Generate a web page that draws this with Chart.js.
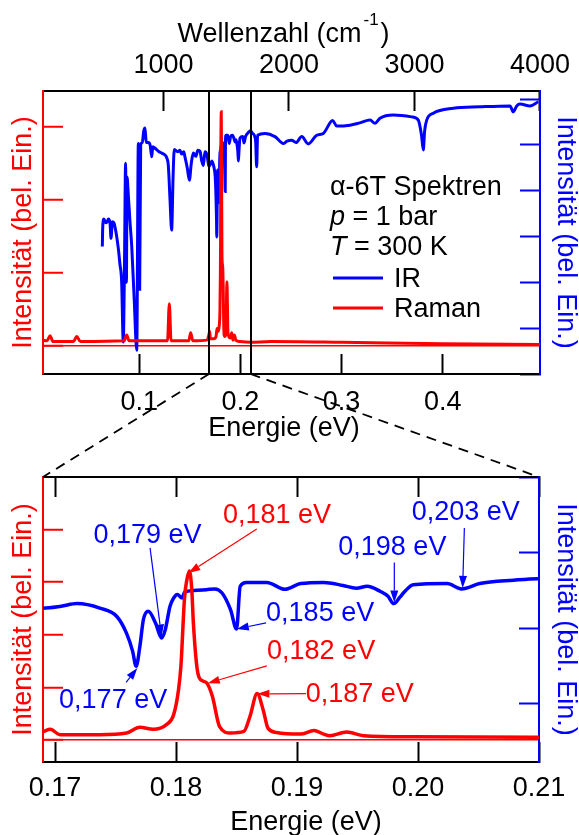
<!DOCTYPE html>
<html>
<head>
<meta charset="utf-8">
<script src="https://cdn.jsdelivr.net/npm/chart.js@4.4.1/dist/chart.umd.min.js"></script>
<style>
  body { margin: 0; background: #fff; }
  #wrap { position: relative; width: 579px; height: 835px; }
  #wrap canvas { position: absolute; left: 0; }
  #overview { top: 0; }
  #zoom { top: 445px; }
  #overlay { top: 0; pointer-events: none; }
</style>
</head>
<body>
<div id="wrap">
  <canvas id="overview" width="579" height="445"></canvas>
  <canvas id="zoom" width="579" height="390"></canvas>
  <canvas id="overlay" width="579" height="835"></canvas>
</div>
<script>
var FONT = "'Liberation Sans', Arial, Helvetica, sans-serif";
var RED = '#ff0000', BLUE = '#0000ff';
var CM_PER_EV = 8065.54;

// IR spectrum, energy (eV) / intensity (arb. units, right axis)
var irEnergy = [0.0636, 0.0640, 0.0652, 0.0663, 0.0680, 0.0695, 0.0712, 0.0722, 0.0735, 0.0750,
  0.0761, 0.0778, 0.0794, 0.0810, 0.0827, 0.0843, 0.0855, 0.0866, 0.0874, 0.0880,
  0.0893, 0.0910, 0.0926, 0.0952, 0.0976, 0.0992, 0.1005, 0.1015, 0.1031, 0.1045,
  0.1058, 0.1070, 0.1090, 0.1110, 0.1124, 0.1135, 0.1160, 0.1190, 0.1223, 0.1255,
  0.1272, 0.1288, 0.1305, 0.1321, 0.1335, 0.1347, 0.1380, 0.1403, 0.1420, 0.1440,
  0.1452, 0.1475, 0.1496, 0.1515, 0.1535, 0.1560, 0.1580, 0.1601, 0.1618, 0.1634,
  0.1650, 0.1670, 0.1683, 0.1690, 0.1705, 0.1718, 0.1737, 0.1751, 0.1759, 0.1764,
  0.1767, 0.1770, 0.1773, 0.1777, 0.1783, 0.1788, 0.1791, 0.1795, 0.1798, 0.1801,
  0.1805, 0.1807, 0.1815, 0.1825, 0.1832, 0.1838, 0.1845, 0.1850, 0.1853, 0.1858,
  0.1875, 0.1890, 0.1903, 0.1922, 0.1938, 0.1949, 0.1958, 0.1969, 0.1975, 0.1980,
  0.1985, 0.1989, 0.1996, 0.2024, 0.2036, 0.2051, 0.2079, 0.2099, 0.2120, 0.2150,
  0.2161, 0.2170, 0.2243, 0.2342, 0.2424, 0.2460, 0.2507, 0.2550, 0.2606, 0.2671,
  0.2754, 0.2819, 0.2912, 0.2952, 0.3083, 0.3180, 0.3281, 0.3330, 0.3379, 0.3511,
  0.3693, 0.3758, 0.3790, 0.3807, 0.3820, 0.3841, 0.3906, 0.4104, 0.4367, 0.4664,
  0.4696, 0.4730, 0.4763, 0.4861, 0.4943];
var irIntensity = [2.78, 3.20, 3.38, 3.32, 3.30, 3.38, 3.30, 2.96, 3.32, 3.30,
  3.21, 3.00, 2.74, 2.40, 2.01, 0.70, 2.40, 4.60, 2.00, 4.30,
  3.90, 3.30, 2.81, 1.58, 0.52, 5.03, 1.85, 5.00, 5.05, 5.30,
  5.37, 5.05, 5.05, 4.98, 4.74, 4.96, 4.92, 4.86, 4.82, 4.78,
  4.72, 4.55, 3.80, 3.14, 4.30, 4.90, 4.85, 4.88, 4.80, 4.85,
  4.74, 4.50, 4.23, 4.60, 4.82, 4.75, 4.88, 4.86, 4.65, 4.55,
  4.85, 4.78, 4.60, 4.53, 4.58, 4.65, 4.53, 4.31, 3.87, 3.40,
  2.99, 3.50, 4.23, 4.45, 4.14, 3.74, 3.95, 4.58, 4.80, 4.89,
  4.80, 4.95, 5.00, 5.02, 5.04, 4.93, 4.49, 3.98, 5.11, 5.21,
  5.21, 5.03, 5.18, 5.21, 5.13, 5.06, 5.11, 4.97, 4.85, 4.65,
  4.82, 4.97, 5.15, 5.18, 5.04, 5.18, 5.27, 5.31, 5.25, 5.10,
  4.52, 5.21, 5.25, 5.18, 5.03, 5.08, 5.10, 5.05, 5.18, 5.02,
  5.21, 5.25, 5.53, 5.41, 5.43, 5.48, 5.54, 5.47, 5.58, 5.65,
  5.61, 5.54, 5.20, 4.89, 5.30, 5.54, 5.69, 5.80, 5.83, 5.85,
  5.72, 5.85, 5.89, 5.85, 5.94];

// Raman spectrum, energy (eV) / intensity (arb. units, left axis)
var ramanEnergy = [0.0050, 0.0090, 0.0119, 0.0150, 0.0350, 0.0383, 0.0420, 0.0850, 0.0877, 0.0900,
  0.1280, 0.1298, 0.1315, 0.1490, 0.1509, 0.1530, 0.1670, 0.1690, 0.1696, 0.1704,
  0.1737, 0.1759, 0.1770, 0.1781, 0.1792, 0.1798, 0.1802, 0.1804, 0.1807, 0.1809,
  0.1811, 0.1813, 0.18143, 0.1818, 0.1822, 0.18254, 0.1830, 0.1836, 0.1845, 0.1856,
  0.1861, 0.1867, 0.1872, 0.1876, 0.1883, 0.1903, 0.1914, 0.1922, 0.1927, 0.1941,
  0.1955, 0.1996, 0.2098, 0.2300, 0.3000, 0.4000, 0.4960];
var ramanIntensity = [0.08, 0.07, 0.14, 0.06, 0.06, 0.13, 0.06, 0.07, 0.15, 0.07,
  0.07, 0.58, 0.07, 0.07, 0.18, 0.07, 0.08, 0.16, 0.20, 0.10,
  0.10, 0.13, 0.24, 0.20, 0.29, 0.48, 0.95, 1.40, 2.70, 3.05,
  3.21, 2.85, 2.22, 1.27, 1.12, 1.08, 0.83, 0.25, 0.13, 0.16,
  0.44, 0.88, 0.57, 0.22, 0.14, 0.11, 0.18, 0.11, 0.08, 0.15,
  0.08, 0.06, 0.05, 0.06, 0.05, 0.03, 0.02];

// axis ranges and tick labels
var overviewEnergy = [0.005, 0.496];
var zoomEnergy = [0.169, 0.21];
var wavenumberTicks = [1000, 2000, 3000, 4000];
var overviewRaman = [-0.384, 3.493];
var overviewIR = [0, 6.175];
var zoomRaman = [-0.42, 4.995];
var zoomIR = [0.46, 8.0];

// peak labels of the zoomed panel
var peakText = ['0,177 eV', '0,179 eV', '0,181 eV', '0,182 eV', '0,185 eV', '0,187 eV', '0,198 eV', '0,203 eV'];
var peakSeries = ['IR', 'IR', 'Raman', 'Raman', 'IR', 'Raman', 'IR', 'IR'];
var peakTipE = [0.1768, 0.1788, 0.18102, 0.18262, 0.18502, 0.18672, 0.19804, 0.20369];
var peakTipY = [2.95, 3.78, 3.17, 1.078, 3.98, 0.875, 4.677, 5.066];
var peakTailE = [0.17587, 0.17785, 0.18667, 0.1875, 0.18744, 0.19074, 0.19804, 0.20383];
var peakTailY = [2.569, 6.124, 4.006, 1.407, 4.14, 0.88, 5.735, 6.653];
var peakTextE = [0.17033, 0.17317, 0.18388, 0.18752, 0.18744, 0.19072, 0.19341, 0.19948];
var peakTextY = [1.892, 6.257, 4.12, 1.534, 4.183, 0.728, 5.947, 6.873];

function points(xs, ys) {
  return xs.map(function(x, i) { return {x: x, y: ys[i]}; });
}

var tickFont = {family: FONT, size: 27, lineHeight: 1};

// fixed axis thickness, no extra label padding -> plot areas land where the reference has them
function fixSize(prop, px) {
  return function(scale) {
    scale[prop] = px;
    scale.paddingLeft = scale.paddingRight = scale.paddingTop = scale.paddingBottom = 0;
  };
}

function tickMarks(color) {
  return {drawOnChartArea: false, color: color, tickColor: color, tickLength: -20, tickWidth: 2};
}

function energyAxis(pos, range, step, digits, height, pad, showLabels, values) {
  var axis = {
    type: 'linear', axis: 'x', position: pos, min: range[0], max: range[1],
    afterFit: fixSize('height', height),
    border: {color: '#000', width: 2},
    grid: tickMarks('#000'),
    ticks: {
      display: showLabels, stepSize: step, includeBounds: false, autoSkip: false, maxRotation: 0,
      color: '#000', font: tickFont, padding: pad,
      callback: function(v) { return digits == null ? String(v) : v.toFixed(digits); }
    }
  };
  if (values) {
    axis.afterBuildTicks = function(s) {
      s.ticks = values.map(function(v) { return {value: v}; });
    };
  }
  return axis;
}

function intensityAxis(pos, range, step, width, color, zeroLine) {
  var grid = tickMarks(color);
  if (zeroLine) {
    grid.drawOnChartArea = true;
    grid.lineWidth = 1.5;
    grid.color = function(c) { return c.tick && c.tick.value === 0 ? color : 'rgba(0,0,0,0)'; };
  }
  return {
    type: 'linear', axis: 'y', position: pos, min: range[0], max: range[1],
    afterFit: fixSize('width', width),
    border: {color: color, width: 2},
    grid: grid,
    ticks: {display: false, stepSize: step, includeBounds: false},
    title: {
      display: true, text: 'Intensität (bel. Ein.)', color: color,
      font: {family: FONT, size: 27, lineHeight: 1},
      padding: {top: pos === 'left' ? 10.5 : 0, bottom: 0}
    }
  };
}

function datasets(width) {
  return [{
    label: 'IR', data: points(irEnergy, irIntensity), yAxisID: 'yI', xAxisID: 'x',
    borderColor: BLUE, borderWidth: width, order: 1, showLine: true
  }, {
    label: 'Raman', data: points(ramanEnergy, ramanIntensity), yAxisID: 'yR', xAxisID: 'x',
    borderColor: RED, borderWidth: width, order: 0, showLine: true
  }];
}

function drawEnergyTitle(chart, shift, baseline) {
  var ctx = chart.ctx, s = chart.scales.x;
  ctx.save();
  ctx.font = '27px ' + FONT;
  ctx.fillStyle = '#000';
  ctx.textAlign = 'center';
  ctx.textBaseline = 'alphabetic';
  ctx.fillText('Energie (eV)', (s.left + s.right) / 2 + shift, s.bottom - baseline);
  ctx.restore();
}

var overviewDecor = {
  id: 'overviewDecor',
  afterDatasetsDraw: function(chart) {
    var ctx = chart.ctx, a = chart.chartArea, sx = chart.scales.x;
    ctx.save();
    // zoom window
    ctx.strokeStyle = '#000';
    ctx.lineWidth = 2;
    zoomEnergy.forEach(function(e) {
      var px = Math.round(sx.getPixelForValue(e));
      ctx.beginPath();
      ctx.moveTo(px, a.top);
      ctx.lineTo(px, a.bottom);
      ctx.stroke();
    });
    // sample info and legend
    ctx.fillStyle = '#000';
    ctx.textBaseline = 'alphabetic';
    ctx.textAlign = 'left';
    var lx = a.left + 287;
    ctx.font = '27px ' + FONT;
    ctx.fillText('\u03b1-6T Spektren', lx, a.top + 104);
    [['p', ' = 1 bar', 134], ['T', ' = 300 K', 164]].forEach(function(r) {
      ctx.font = 'italic 27px ' + FONT;
      ctx.fillText(r[0], lx, a.top + r[2]);
      var w = ctx.measureText(r[0]).width;
      ctx.font = '27px ' + FONT;
      ctx.fillText(r[1], lx + w, a.top + r[2]);
    });
    var rows = [chart.data.datasets[0], chart.data.datasets[1]];
    rows.forEach(function(ds, i) {
      var y = a.top + 187 + i * 30;
      ctx.strokeStyle = ds.borderColor;
      ctx.lineWidth = 3;
      ctx.beginPath();
      ctx.moveTo(a.left + 290, y);
      ctx.lineTo(a.left + 340, y);
      ctx.stroke();
      ctx.fillStyle = '#000';
      ctx.fillText(ds.label, a.left + 351, y + 8.5);
    });
    ctx.restore();
  },
  afterDraw: function(chart) {
    var ctx = chart.ctx, s = chart.scales.x2;
    var main = 'Wellenzahl (cm', sup = '-1', close = ')';
    ctx.save();
    ctx.fillStyle = '#000';
    ctx.textAlign = 'left';
    ctx.textBaseline = 'alphabetic';
    ctx.font = '27px ' + FONT;
    var w1 = ctx.measureText(main).width, w3 = ctx.measureText(close).width;
    ctx.font = '17px ' + FONT;
    var w2 = ctx.measureText(sup).width;
    var x = (s.left + s.right) / 2 - 8 - (w1 + w2 + w3 + 4) / 2;
    ctx.font = '27px ' + FONT;
    ctx.fillText(main, x, s.top + 42);
    ctx.font = '17px ' + FONT;
    ctx.fillText(sup, x + w1 + 2, s.top + 25);
    ctx.font = '27px ' + FONT;
    ctx.fillText(close, x + w1 + w2 + 4, s.top + 42);
    ctx.restore();
    drawEnergyTitle(chart, -7.5, 9);
  }
};

var peakArrows = {
  id: 'peakArrows',
  afterDatasetsDraw: function(chart) {
    var ctx = chart.ctx, sx = chart.scales.x;
    ctx.save();
    ctx.font = '27px ' + FONT;
    ctx.textAlign = 'left';
    ctx.textBaseline = 'alphabetic';
    peakText.forEach(function(txt, i) {
      var isIR = peakSeries[i] === 'IR';
      var sy = chart.scales[isIR ? 'yI' : 'yR'];
      var col = isIR ? BLUE : RED;
      var x0 = sx.getPixelForValue(peakTailE[i]), y0 = sy.getPixelForValue(peakTailY[i]);
      var x1 = sx.getPixelForValue(peakTipE[i]), y1 = sy.getPixelForValue(peakTipY[i]);
      var ang = Math.atan2(y1 - y0, x1 - x0);
      var hl = 12, hw = 4;
      var bx = x1 - hl * Math.cos(ang), by = y1 - hl * Math.sin(ang);
      ctx.strokeStyle = col;
      ctx.fillStyle = col;
      ctx.lineWidth = 1.2;
      ctx.beginPath();
      ctx.moveTo(x0, y0);
      ctx.lineTo(bx, by);
      ctx.stroke();
      ctx.beginPath();
      ctx.moveTo(x1, y1);
      ctx.lineTo(bx + hw * Math.sin(ang), by - hw * Math.cos(ang));
      ctx.lineTo(bx - hw * Math.sin(ang), by + hw * Math.cos(ang));
      ctx.closePath();
      ctx.fill();
      ctx.fillText(txt, sx.getPixelForValue(peakTextE[i]), sy.getPixelForValue(peakTextY[i]));
    });
    ctx.restore();
  },
  afterDraw: function(chart) {
    drawEnergyTitle(chart, 15, 5);
  }
};

var common = {
  animation: false,
  responsive: false,
  devicePixelRatio: 1,
  events: [],
  layout: {padding: 0},
  elements: {point: {radius: 0}, line: {cubicInterpolationMode: 'monotone'}},
  plugins: {legend: {display: false}, tooltip: {enabled: false}}
};

var overview = new Chart(document.getElementById('overview'), {
  type: 'scatter',
  data: {datasets: datasets(3)},
  options: Object.assign({}, common, {
    scales: {
      x: energyAxis('bottom', overviewEnergy, 0.1, 1, 71, 35, true),
      x2: energyAxis('top', [overviewEnergy[0] * CM_PER_EV, overviewEnergy[1] * CM_PER_EV], 1000, null, 91, 32, true, wavenumberTicks),
      yR: intensityAxis('left', overviewRaman, 1, 43, RED, true),
      yI: intensityAxis('right', overviewIR, 1, 39, BLUE, false)
    }
  }),
  plugins: [overviewDecor]
});

var zoom = new Chart(document.getElementById('zoom'), {
  type: 'scatter',
  data: {datasets: datasets(3.5)},
  options: Object.assign({}, common, {
    scales: {
      x: energyAxis('bottom', zoomEnergy, 0.01, 2, 73, 33.5, true),
      x2: energyAxis('top', zoomEnergy, 0.01, 2, 32, 0, false),
      yR: intensityAxis('left', zoomRaman, 1, 43, RED, true),
      yI: intensityAxis('right', zoomIR, 2, 40, BLUE, false)
    }
  }),
  plugins: [peakArrows]
});

// dashed lines linking the zoom window to the lower panel
(function() {
  var c = document.getElementById('overlay').getContext('2d');
  var off = document.getElementById('zoom').offsetTop;
  var a = overview.chartArea, b = zoom.chartArea, sx = overview.scales.x;
  c.strokeStyle = '#000';
  c.lineWidth = 1.8;
  c.setLineDash([10, 7]);
  c.beginPath();
  c.moveTo(sx.getPixelForValue(zoomEnergy[0]), a.bottom);
  c.lineTo(b.left, off + b.top);
  c.moveTo(sx.getPixelForValue(zoomEnergy[1]), a.bottom);
  c.lineTo(b.right, off + b.top);
  c.stroke();
})();
</script>
</body>
</html>
